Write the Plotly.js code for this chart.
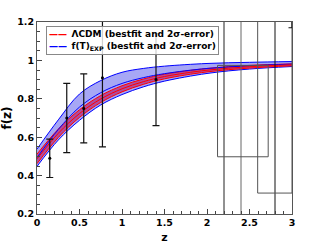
<!DOCTYPE html>
<html><head><meta charset="utf-8">
<script src="https://cdn.plot.ly/plotly-3.0.1.min.js"></script>
<style>html,body{margin:0;padding:0;background:#fff}#chart{width:309px;height:247px}</style>
</head><body><div id="chart"></div>
<script>
// model curves sampled at redshift grid
const zGrid = [0, 0.25, 0.5, 0.75, 1, 1.25, 1.5, 2, 2.5, 3];
const lcdmCenter = [0.487, 0.620, 0.723, 0.799, 0.852, 0.889, 0.916, 0.949, 0.967, 0.977];
const lcdmUpper  = [0.512, 0.642, 0.743, 0.817, 0.868, 0.903, 0.928, 0.958, 0.974, 0.982];
const lcdmLower  = [0.462, 0.598, 0.703, 0.781, 0.836, 0.875, 0.904, 0.940, 0.960, 0.972];
const ftCenter = [0.493, 0.640, 0.757, 0.832, 0.880, 0.910, 0.931, 0.958, 0.972, 0.981];
const ftUpper  = [0.538, 0.690, 0.825, 0.895, 0.938, 0.958, 0.970, 0.984, 0.990, 0.994];
const ftLower  = [0.448, 0.585, 0.688, 0.768, 0.822, 0.862, 0.892, 0.932, 0.955, 0.968];

// growth-rate measurements
const zData   = [0.15, 0.35, 0.55, 0.77, 1.4, 3.0];
const fData   = [0.49, 0.70, 0.75, 0.91, 0.90, 1.46];
const errData = [0.10, 0.18, 0.18, 0.36, 0.24, 0.29];

// high-z wide error structures
const vertZ = [2.2, 2.4, 2.8];
const vertLo = [0.0, 0.0, 0.0];
const vertHi = [1.5, 1.5, 1.5];
const vertColors = ['#222222', '#666666', '#111111'];
const boxAZ = [2.124, 2.124, 2.72, 2.72, 2.124];
const boxAF = [0.974, 0.498, 0.498, 0.974, 0.974];
const boxBZ = [2.596, 2.596, 3.0, 3.0];
const boxBF = [1.3, 0.309, 0.309, 1.3];

const legendNames = ['ΛCDM (bestfit and 2σ-error)', 'f(T)<sub>EXP</sub> (bestfit and 2σ-error)'];
const legendColors = ['rgb(255,0,0)', 'rgb(0,0,255)'];

const traces = [];
const blue = '#0000ff', red = '#ff0000';
const skip = {showlegend: false, hoverinfo: 'skip'};
// f(T) band
traces.push(Object.assign({x: zGrid, y: ftUpper, mode: 'lines', line: {color: blue, width: 1, shape: 'spline'}}, skip));
traces.push(Object.assign({x: zGrid, y: ftLower, mode: 'lines', line: {color: blue, width: 1, shape: 'spline'}, fill: 'tonexty', fillcolor: 'rgba(80,80,235,0.5)'}, skip));
// LCDM band
traces.push(Object.assign({x: zGrid, y: lcdmUpper, mode: 'lines', line: {color: red, width: 1, shape: 'spline'}}, skip));
traces.push(Object.assign({x: zGrid, y: lcdmLower, mode: 'lines', line: {color: red, width: 1, shape: 'spline'}, fill: 'tonexty', fillcolor: 'rgba(180,0,90,0.55)'}, skip));
// best-fit lines
traces.push(Object.assign({x: zGrid, y: ftCenter, mode: 'lines', line: {color: blue, width: 1, shape: 'spline'}}, skip));
traces.push(Object.assign({x: zGrid, y: lcdmCenter, mode: 'lines', line: {color: red, width: 1, shape: 'spline'}}, skip));
// high-z lines
vertZ.forEach((z, i) => {
  traces.push(Object.assign({x: [z, z], y: [vertLo[i], vertHi[i]], mode: 'lines', line: {color: vertColors[i], width: 1}}, skip));
});
traces.push(Object.assign({x: boxAZ, y: boxAF, mode: 'lines', line: {color: '#555555', width: 1}}, skip));
traces.push(Object.assign({x: boxBZ, y: boxBF, mode: 'lines', line: {color: '#555555', width: 1}}, skip));
// data
traces.push(Object.assign({x: zData, y: fData, mode: 'markers', marker: {color: '#000', size: 3},
  error_y: {type: 'data', array: errData, visible: true, color: '#111', thickness: 1.2, width: 3.5}}, skip));

// compact legend box (annotation)
const legendText = legendNames.map((n, i) =>
  '<span style="color:' + legendColors[i] + '">——</span>\u2002' + n).join('<br>');

const tickFont = {family: 'DejaVu Sans', size: 9.5, color: '#000', weight: 'bold'};
const layout = {
  width: 309, height: 247,
  margin: {l: 36.5, r: 17, t: 22, b: 32.5},
  paper_bgcolor: '#fff', plot_bgcolor: '#fff',
  showlegend: false,
  annotations: [{xref: 'paper', yref: 'paper', x: 0.037, y: 0.978, xanchor: 'left', yanchor: 'top',
    text: legendText, showarrow: false, align: 'left', bgcolor: 'rgba(255,255,255,0.8)',
    bordercolor: '#888', borderwidth: 1, borderpad: 2,
    font: {family: 'DejaVu Sans', size: 9, color: '#000', weight: 'bold'}}],
  xaxis: {range: [0, 3], tickvals: [0, 0.5, 1, 1.5, 2, 2.5, 3], ticktext: ['0', '0.5', '1', '1.5', '2', '2.5', '3'],
    ticks: 'inside', ticklen: 5, tickcolor: '#444', showgrid: false, zeroline: false,
    showline: true, mirror: true, linecolor: '#555', linewidth: 1, tickfont: tickFont,
    minor: {dtick: 0.1, ticks: 'inside', ticklen: 3, tickcolor: '#444', showgrid: false},
    title: {text: 'z', font: {family: 'DejaVu Sans', size: 11, color: '#000', weight: 'bold'}, standoff: 5}},
  yaxis: {range: [0.2, 1.2], tickvals: [0.2, 0.4, 0.6, 0.8, 1, 1.2], ticktext: ['0.2', '0.4', '0.6', '0.8', '1', '1.2'],
    ticks: 'inside', ticklen: 5, tickcolor: '#444', showgrid: false, zeroline: false,
    showline: true, mirror: true, linecolor: '#555', linewidth: 1, tickfont: tickFont,
    minor: {dtick: 0.05, ticks: 'inside', ticklen: 3, tickcolor: '#444', showgrid: false},
    title: {text: 'f(z)', font: {family: 'DejaVu Sans', size: 12, color: '#000', weight: 'bold'}, standoff: 4}}
};
Plotly.newPlot('chart', traces, layout, {displayModeBar: false, staticPlot: true});
</script></body></html>
